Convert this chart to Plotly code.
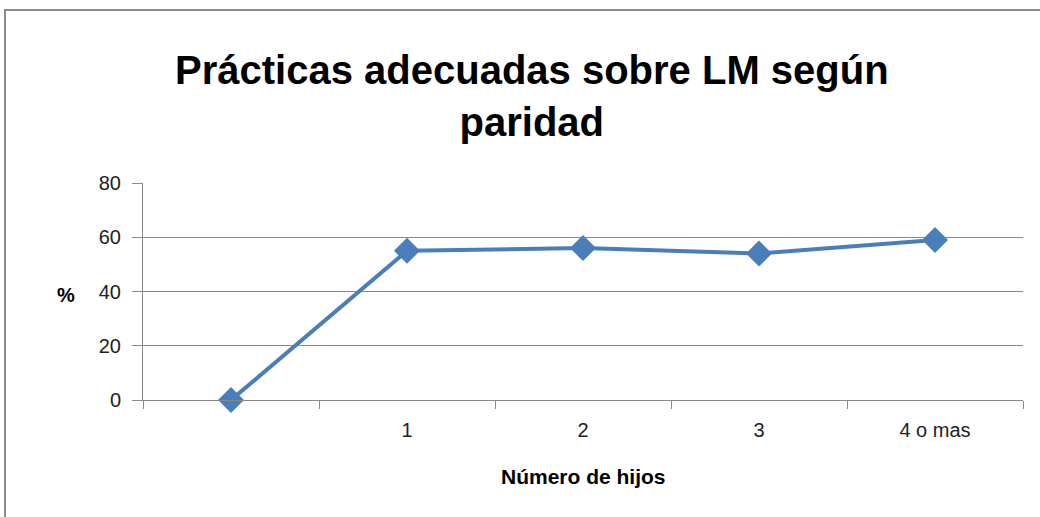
import plotly.graph_objects as go

categories = [" ", "1", "2", "3", "4 o mas"]
values = [0, 55, 56, 54, 59]
y_ticks = [0, 20, 40, 60, 80]

W, H = 1040, 517
L, T = 143, 183
R = W - 1023
B = H - 400
pw, ph = W - L - R, H - T - B

fig = go.Figure()
fig.add_trace(go.Scatter(
    x=categories, y=values, mode="lines+markers",
    line=dict(color="#4A7EBB", width=4),
    marker=dict(symbol="diamond", size=20, color="#4A7EBB"),
    showlegend=False, cliponaxis=False,
))

font = "Liberation Sans"
fig.update_layout(
    width=W, height=H,
    margin=dict(l=L, r=R, t=T, b=B),
    paper_bgcolor="white", plot_bgcolor="white",
    font=dict(family=font, color="#000000"),
    xaxis=dict(
        type="category", categoryorder="array", categoryarray=categories,
        tickson="boundaries", ticks="outside", ticklen=8, tickcolor="#888888",
        showline=True, linecolor="#888888", linewidth=1,
        showgrid=False, tickfont=dict(size=20, color="#222222"),
        range=[-0.5, 4.5], ticklabelstandoff=12,
    ),
    yaxis=dict(
        range=[0, 80], tickvals=y_ticks, ticks="outside", ticklen=10,
        tickcolor="#888888", showline=True, linecolor="#888888",
        showgrid=True, gridcolor="#888888", gridwidth=1,
        tickfont=dict(size=20, color="#222222"), zeroline=False,
        ticklabelstandoff=7,
    ),
)

def px(x):
    return (x - L) / pw

def py(y):
    return (H - B - y) / ph

fig.add_annotation(x=px(532), y=py(96), xref="paper", yref="paper",
                   text="<b>Prácticas adecuadas sobre LM según<br>paridad</b>",
                   showarrow=False, font=dict(size=40, family=font, color="#000"),
                   xanchor="center", yanchor="middle", align="center")
fig.add_annotation(x=px(583), y=py(476), xref="paper", yref="paper",
                   text="<b>Número de hijos</b>", showarrow=False,
                   font=dict(size=21, family=font, color="#000"),
                   xanchor="center", yanchor="middle")
fig.add_annotation(x=px(66), y=py(295), xref="paper", yref="paper",
                   text="<b>%</b>", showarrow=False,
                   font=dict(size=20, family=font, color="#000"),
                   xanchor="center", yanchor="middle")

fig.add_shape(type="rect", xref="paper", yref="paper",
              x0=px(5), x1=px(1060), y0=py(540), y1=py(10),
              line=dict(color="#8C8C8C", width=2), layer="below")

fig.write_html("out.html", config={"displayModeBar": False},
               post_script="document.body.style.margin='0';document.body.style.overflow='hidden';")
